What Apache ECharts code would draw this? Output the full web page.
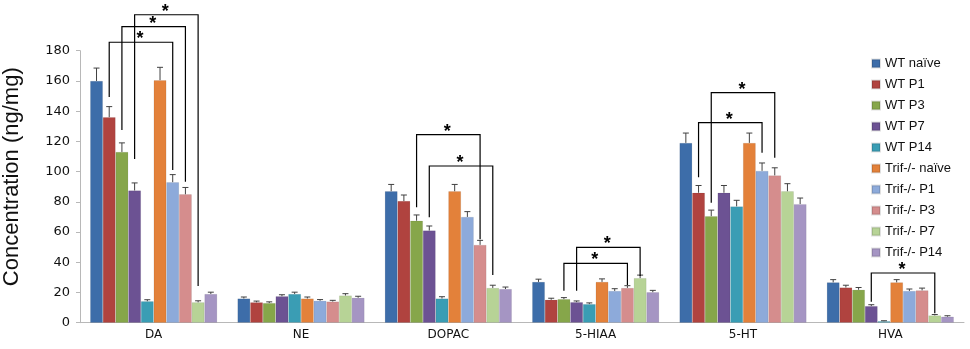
<!DOCTYPE html>
<html>
<head>
<meta charset="utf-8">
<script src="https://cdn.jsdelivr.net/npm/echarts@6/dist/echarts.min.js"></script>
<style>html,body{margin:0;padding:0;background:#fff}#chart{width:970px;height:349px}</style>
</head>
<body>
<div id="chart"></div>
<script>
var categories = ['DA', 'NE', 'DOPAC', '5-HIAA', '5-HT', 'HVA'];
var groups = ['WT naïve', 'WT P1', 'WT P3', 'WT P7', 'WT P14', 'Trif-/- naïve', 'Trif-/- P1', 'Trif-/- P3', 'Trif-/- P7', 'Trif-/- P14'];
var colors = ['#3D6DA9', '#B0433F', '#86A64A', '#6C5293', '#3A9DB4', '#E3813A', '#8DAADA', '#D58D8D', '#B7D396', '#A595C3'];

// mean per category, one value per group
var DA = [160, 136, 113, 87.5, 14.2, 160.5, 93, 85, 13.5, 19];
var NE = [16, 13.5, 13, 17.5, 19, 16, 14.5, 14, 18, 16.5];
var DOPAC = [87, 80.5, 67.5, 61, 16, 87, 70, 51.5, 23, 22.3];
var HIAA = [27, 15.2, 15.6, 13.6, 12.3, 27, 21, 23, 29.5, 20.2];
var HT = [119, 86, 70.5, 86, 77, 119, 100.5, 97.5, 87, 78.5];
var HVA = [26.7, 23.3, 21.8, 11, 1, 26.7, 21, 21.4, 4.8, 4];

// error (upper only)
var errDA = [8.5, 7, 6, 5, 1, 8.5, 5, 4.5, 1, 1.2];
var errNE = [1, 0.8, 0.8, 1, 1.2, 1, 0.8, 0.8, 1.2, 1];
var errDOPAC = [4.5, 4, 3.8, 3, 1.2, 4.5, 3.5, 3, 1.8, 1.3];
var errHIAA = [1.8, 1, 1, 0.8, 0.8, 2, 1.5, 1.5, 2, 1.2];
var errHT = [6.5, 4.8, 4, 4.8, 4, 6.5, 5.2, 5, 5, 4];
var errHVA = [1.8, 1.5, 1.5, 0.9, 0.3, 1.8, 1.3, 1.5, 0.6, 0.6];

// significance brackets: [category, left group, right group, top, left end, right end]
var brackets = [
	[0, 1, 6, 185.6, 149.4, 101],
	[0, 2, 7, 195.9, 127.5, 93.3],
	[0, 3, 8, 203.8, 108.3, 24.3],
	[2, 2, 7, 124.4, 76.4, 55.2],
	[2, 3, 8, 103.7, 69.8, 31.6],
	[3, 2, 7, 39.3, 21.2, 25],
	[3, 3, 8, 49.9, 21.2, 30.9],
	[4, 1, 6, 132.4, 96.2, 112.5],
	[4, 2, 7, 152.2, 79.4, 109.2],
	[5, 3, 8, 32.9, 13.9, 6.2]
];

var means = [DA, NE, DOPAC, HIAA, HT, HVA];
var errs = [errDA, errNE, errDOPAC, errHIAA, errHT, errHVA];
var gapRatio = 0.138;

var series = [];
var errData = [];
for (var k = 0; k < groups.length; k++) {
	var d = [];
	for (var c = 0; c < categories.length; c++) {
		d.push(means[c][k]);
		errData.push([c, k, means[c][k], errs[c][k]]);
	}
	series.push({
		name: groups[k],
		type: 'bar',
		data: d,
		barGap: 0,
		barCategoryGap: (gapRatio * 100) + '%',
		itemStyle: { color: colors[k], borderColor: 'rgba(0,0,0,0.12)', borderWidth: 0.6 }
	});
}

function barX(api, cat, k) {
	var cw = api.size([1, 0])[0];
	var bw = cw * (1 - gapRatio) / groups.length;
	return api.coord([cat, 0])[0] + (k - 4.5) * bw;
}

series.push({
	type: 'custom',
	name: 'err',
	data: errData,
	encode: { x: 0, y: 2 },
	z: 5,
	renderItem: function (params, api) {
		var x = barX(api, api.value(0), api.value(1));
		var y0 = api.coord([api.value(0), api.value(2)])[1];
		var y1 = api.coord([api.value(0), api.value(2) + api.value(3)])[1];
		var st = { stroke: '#404040', lineWidth: 1 };
		return {
			type: 'group',
			children: [
				{ type: 'line', shape: { x1: x, y1: y0, x2: x, y2: y1 }, style: st },
				{ type: 'line', shape: { x1: x - 3, y1: y1, x2: x + 3, y2: y1 }, style: st }
			]
		};
	}
});

series.push({
	type: 'custom',
	name: 'sig',
	data: brackets,
	encode: { x: 0, y: 3 },
	clip: false,
	z: 6,
	renderItem: function (params, api) {
		var cat = api.value(0);
		var xl = barX(api, cat, api.value(1));
		var xr = barX(api, cat, api.value(2));
		var yt = api.coord([cat, api.value(3)])[1];
		var yl = api.coord([cat, api.value(4)])[1];
		var yr = api.coord([cat, api.value(5)])[1];
		return {
			type: 'group',
			children: [
				{ type: 'polyline', shape: { points: [[xl, yl], [xl, yt], [xr, yt], [xr, yr]] }, style: { stroke: '#000', lineWidth: 1.2, fill: null } },
				{ type: 'text', style: { text: '*', x: (xl + xr) / 2 - 1, y: yt - 3, align: 'center', verticalAlign: 'middle', font: 'bold 18px "Liberation Sans"', fill: '#000' } }
			]
		};
	}
});

var myChart = echarts.init(document.getElementById('chart'));
var option = {
	animation: false,
	grid: { left: 80, right: 6, top: 50.7, bottom: 26.3, outerBoundsMode: 'none', containLabel: false },
	legend: {
		data: groups,
		orient: 'vertical',
		left: 866,
		top: 52,
		itemWidth: 8,
		itemHeight: 8,
		itemGap: 8,
		icon: 'rect',
		textStyle: { fontFamily: 'Liberation Sans', fontSize: 13, color: '#111' }
	},
	xAxis: {
		type: 'category',
		data: categories,
		axisLine: { lineStyle: { color: '#b8b8b8' } },
		axisTick: { lineStyle: { color: '#b8b8b8' }, length: 5 },
		axisLabel: { fontFamily: 'DejaVu Sans', fontSize: 12, color: '#111', margin: 6 }
	},
	yAxis: {
		type: 'value',
		min: 0,
		max: 180,
		interval: 20,
		name: 'Concentration (ng/mg)',
		nameLocation: 'middle',
		nameGap: 57,
		nameTextStyle: { fontFamily: 'Liberation Sans', fontSize: 22, color: '#111', padding: [0, 0, 0, 20] },
		axisLine: { show: true, lineStyle: { color: '#b8b8b8' } },
		axisTick: { show: true, length: 4, lineStyle: { color: '#b8b8b8' } },
		splitLine: { show: false },
		axisLabel: { fontFamily: 'DejaVu Sans', fontSize: 13, color: '#111', margin: 10 }
	},
	series: series
};
myChart.setOption(option);
</script>
</body>
</html>
